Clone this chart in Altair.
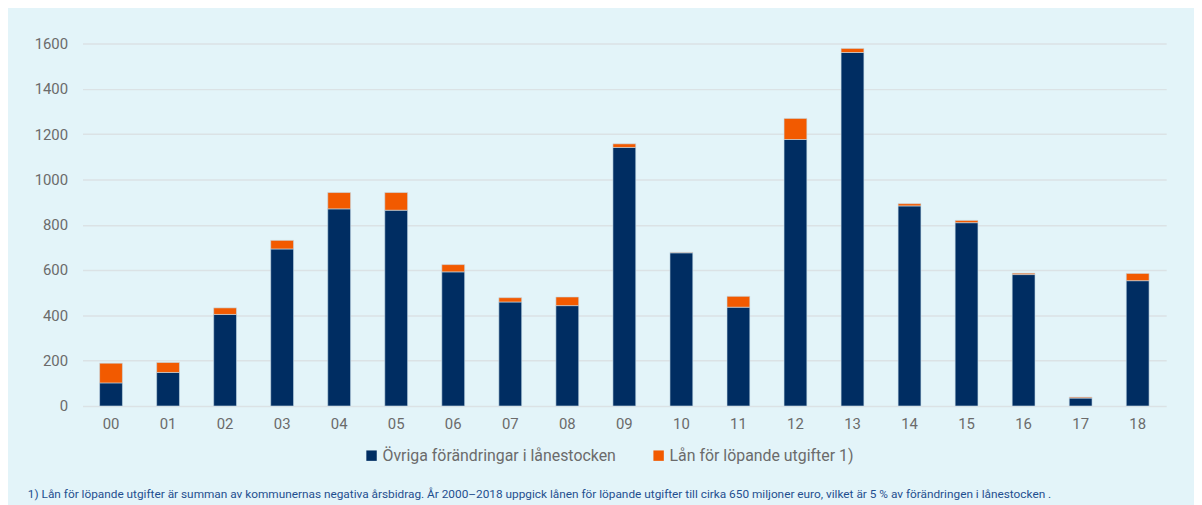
import altair as alt
import pandas as pd

years = ["00", "01", "02", "03", "04", "05", "06", "07", "08", "09",
         "10", "11", "12", "13", "14", "15", "16", "17", "18"]
ovriga = [102, 148, 404, 693, 870, 864, 592, 459, 443, 1141,
          676, 436, 1176, 1560, 883, 809, 580, 35, 553]
lan = [87, 44, 29, 38, 72, 78, 32, 19, 38, 16,
       2, 48, 93, 18, 10, 10, 6, 4, 32]

series = ["Övriga förändringar i lånestocken", "Lån för löpande utgifter 1)"]
colors = ["#002d62", "#f25a00"]
footnote = ("1) Lån för löpande utgifter är summan av kommunernas negativa årsbidrag. "
            "År 2000–2018 uppgick lånen för löpande utgifter till cirka 650 miljoner euro, "
            "vilket är 5 % av förändringen i lånestocken .")

rows = []
for y, a, b in zip(years, ovriga, lan):
    rows.append({"year": y, "series": series[0], "value": a, "ord": 0})
    rows.append({"year": y, "series": series[1], "value": b, "ord": 1})
df = pd.DataFrame(rows)

FONT = "Roboto"

bars = alt.Chart(df).mark_bar(stroke="#c6dce8", strokeWidth=0.6).encode(
    x=alt.X("year:N", sort=years, title=None,
            scale=alt.Scale(paddingInner=0.6, paddingOuter=0.3),
            axis=alt.Axis(labelAngle=0, labelFontSize=15, labelColor="#6b6b6b",
                          labelPadding=11, ticks=False, domain=False, grid=False,
                          labelFont=FONT)),
    y=alt.Y("value:Q", title=None, stack="zero",
            scale=alt.Scale(domain=[0, 1600]),
            axis=alt.Axis(values=[0, 200, 400, 600, 800, 1000, 1200, 1400, 1600],
                          format="d",
                          labelFontSize=15, labelColor="#6b6b6b", labelPadding=15,
                          ticks=False, domain=False, grid=True, gridColor="#dbe2e5",
                          gridWidth=1.5, labelFont=FONT)),
    color=alt.Color("series:N", scale=alt.Scale(domain=series, range=colors),
                    legend=alt.Legend(title=None, orient="none", legendX=283, legendY=407,
                                      direction="horizontal", symbolType="square",
                                      symbolSize=110, symbolStrokeWidth=0,
                                      labelFontSize=16, labelColor="#6b6b6b",
                                      labelLimit=0,
                                      labelFont=FONT, columnPadding=34, labelOffset=3)),
    order=alt.Order("ord:Q", sort="ascending"),
)

note = alt.Chart(pd.DataFrame({"t": [footnote]})).mark_text(
    align="left", baseline="middle", fontSize=11.9, color="#1f4f8f", font=FONT
).encode(x=alt.value(-55), y=alt.value(454), text="t:N")

chart = alt.layer(bars, note).properties(
    width=1091, height=365,
    autosize=alt.AutoSizeParams(type="none"),
    padding={"left": 75, "top": 34, "right": 28, "bottom": 98},
    background="#e3f4f9",
).configure_view(stroke=None)

chart.save("out.html", embed_options={"renderer": "svg", "actions": False})
